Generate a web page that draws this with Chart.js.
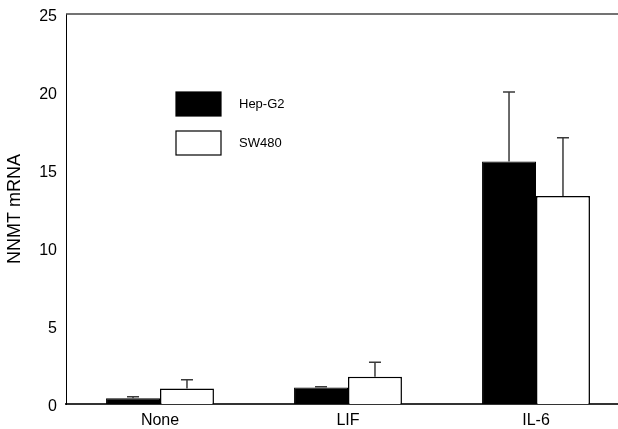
<!DOCTYPE html>
<html>
<head>
<meta charset="utf-8">
<script src="https://cdn.jsdelivr.net/npm/chart.js@4/dist/chart.umd.min.js"></script>
<style>
  html, body { margin: 0; padding: 0; background: #fff; overflow: hidden; }
  #wrap { width: 618px; height: 429px; overflow: hidden; }
</style>
</head>
<body>
<div id="wrap"><canvas id="chart" width="630" height="429"></canvas></div>
<script>
const categories = ['None', 'LIF', 'IL-6'];
const hepG2 = [0.37, 1.05, 15.55];
const hepG2Err = [0.1, 0.05, 4.45];
const sw480 = [1.0, 1.75, 13.33];
const sw480Err = [0.55, 0.92, 3.74];
const yTicks = [0, 5, 10, 15, 20, 25];

const FONT = '"Liberation Sans", Arial, sans-serif';

// error bars (upward only) + frame line on top + legend inside plot
const extras = {
  id: 'extras',
  afterDatasetsDraw(chart) {
    const { ctx, chartArea } = chart;
    const y = chart.scales.y;
    const errs = [hepG2Err, sw480Err];
    ctx.save();
    ctx.strokeStyle = '#3a3a3a';
    ctx.lineWidth = 1.5;
    chart.data.datasets.forEach((ds, di) => {
      chart.getDatasetMeta(di).data.forEach((bar, i) => {
        const top = y.getPixelForValue(ds.data[i] + errs[di][i]);
        ctx.beginPath();
        ctx.moveTo(bar.x, bar.y);
        ctx.lineTo(bar.x, top);
        ctx.moveTo(bar.x - 6, top);
        ctx.lineTo(bar.x + 6, top);
        ctx.stroke();
      });
    });
    // top frame line
    ctx.strokeStyle = '#444';
    ctx.lineWidth = 1.5;
    ctx.beginPath();
    ctx.moveTo(chartArea.left, chartArea.top);
    ctx.lineTo(chartArea.right, chartArea.top);
    ctx.stroke();
    // legend
    ctx.font = '13px ' + FONT;
    ctx.textBaseline = 'middle';
    ctx.textAlign = 'left';
    chart.data.datasets.forEach((ds, di) => {
      const bx = 176, by = 92 + di * 39;
      ctx.fillStyle = ds.backgroundColor;
      ctx.fillRect(bx, by, 45, 24);
      ctx.strokeStyle = '#000';
      ctx.lineWidth = 1.2;
      ctx.strokeRect(bx, by, 45, 24);
      ctx.fillStyle = '#000';
      ctx.fillText(ds.label, 239, by + 12);
    });
    ctx.restore();
  }
};

new Chart(document.getElementById('chart'), {
  type: 'bar',
  data: {
    labels: categories,
    datasets: [
      { label: 'Hep-G2', data: hepG2, backgroundColor: '#000', borderColor: '#000', borderWidth: 1 },
      { label: 'SW480', data: sw480, backgroundColor: '#fff', borderColor: '#000', borderWidth: 1.5 }
    ]
  },
  options: {
    responsive: false,
    animation: false,
    layout: { padding: { top: 14, left: 0, right: 0, bottom: 0 } },
    datasets: { bar: { categoryPercentage: 0.574, barPercentage: 1 } },
    plugins: { legend: { display: false }, tooltip: { enabled: false } },
    scales: {
      x: {
        grid: { display: false, drawTicks: false },
        border: { display: true, color: '#333', width: 2 },
        ticks: { color: '#000', font: { family: FONT, size: 16 }, padding: 7 },
        afterFit(scale) { scale.height = 25; }
      },
      y: {
        min: 0,
        max: 25,
        grid: { display: false, drawTicks: false },
        border: { display: true, color: '#000', width: 1 },
        afterBuildTicks(scale) { scale.ticks = yTicks.map(v => ({ value: v })); },
        ticks: { color: '#000', font: { family: FONT, size: 16 }, padding: 9, labelOffset: 3 },
        title: { display: true, text: 'NNMT mRNA', color: '#000', font: { family: FONT, size: 18 }, padding: { top: 4, bottom: 0 } },
        afterFit(scale) {
          scale.width = 66;
          scale.paddingTop = 0;
          scale.paddingBottom = 0;
        }
      }
    }
  },
  plugins: [extras]
});
</script>
</body>
</html>
